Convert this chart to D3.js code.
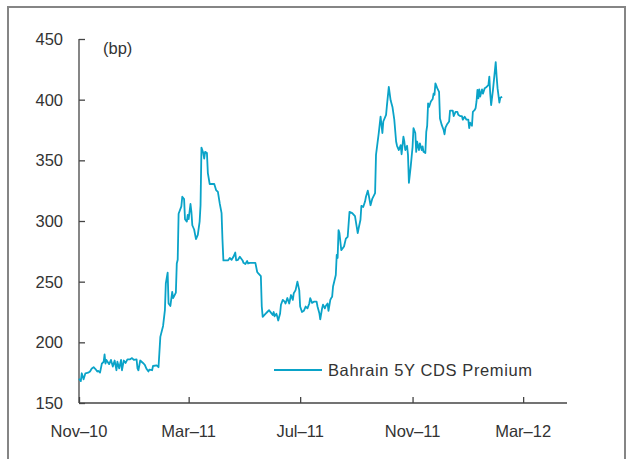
<!DOCTYPE html>
<html>
<head>
<meta charset="utf-8">
<script src="https://cdn.jsdelivr.net/npm/d3@7"></script>
<style>
  body { margin: 0; background: #fff; }
  text { font-family: "Liberation Sans", Arial, sans-serif; fill: #333; }
</style>
</head>
<body>
<svg id="chart" width="627" height="459"></svg>
<script>
// Bahrain 5Y CDS premium, bp
var dates = [
  "2010-11-01","2010-11-03","2010-11-04","2010-11-06","2010-11-08","2010-11-11","2010-11-13","2010-11-15",
  "2010-11-17","2010-11-19","2010-11-21","2010-11-22","2010-11-24","2010-11-26","2010-11-28","2010-11-29",
  "2010-11-30","2010-12-01","2010-12-04","2010-12-06","2010-12-08","2010-12-10","2010-12-12","2010-12-13",
  "2010-12-15","2010-12-17","2010-12-18","2010-12-20","2010-12-22","2010-12-24","2010-12-27","2010-12-29",
  "2010-12-31","2011-01-03","2011-01-04","2011-01-05","2011-01-07","2011-01-10","2011-01-12","2011-01-14",
  "2011-01-16","2011-01-17","2011-01-20","2011-01-21","2011-01-25","2011-01-27","2011-01-29","2011-02-01",
  "2011-02-03","2011-02-04","2011-02-06","2011-02-07","2011-02-09","2011-02-11","2011-02-12","2011-02-15",
  "2011-02-16","2011-02-17","2011-02-18","2011-02-21","2011-02-22","2011-02-24","2011-02-25","2011-02-27",
  "2011-02-28","2011-03-01","2011-03-03","2011-03-04","2011-03-05","2011-03-07","2011-03-09","2011-03-11",
  "2011-03-13","2011-03-14","2011-03-15","2011-03-17","2011-03-18","2011-03-19","2011-03-21","2011-03-22",
  "2011-03-24","2011-03-29","2011-03-31","2011-04-02","2011-04-04","2011-04-06","2011-04-07","2011-04-08",
  "2011-04-13","2011-04-15","2011-04-17","2011-04-19","2011-04-21","2011-04-22","2011-04-24","2011-04-26",
  "2011-04-29","2011-04-30","2011-05-02","2011-05-04","2011-05-05","2011-05-07","2011-05-13","2011-05-15",
  "2011-05-16","2011-05-19","2011-05-20","2011-05-21","2011-05-24","2011-05-26","2011-05-28","2011-05-30",
  "2011-06-01","2011-06-02","2011-06-03","2011-06-05","2011-06-06","2011-06-07","2011-06-09","2011-06-10",
  "2011-06-12","2011-06-14","2011-06-15","2011-06-17","2011-06-19","2011-06-21","2011-06-23","2011-06-24",
  "2011-06-26","2011-06-28","2011-06-30","2011-07-01","2011-07-03","2011-07-05","2011-07-07","2011-07-09",
  "2011-07-11","2011-07-12","2011-07-14","2011-07-16","2011-07-19","2011-07-20","2011-07-22","2011-07-23",
  "2011-07-25","2011-07-26","2011-07-28","2011-07-29","2011-07-31","2011-08-01","2011-08-03","2011-08-04",
  "2011-08-05","2011-08-06","2011-08-09","2011-08-10","2011-08-11","2011-08-12","2011-08-13","2011-08-15",
  "2011-08-18","2011-08-20","2011-08-22","2011-08-24","2011-08-27","2011-08-30","2011-09-02","2011-09-03",
  "2011-09-05","2011-09-06","2011-09-08","2011-09-10","2011-09-11","2011-09-13","2011-09-14","2011-09-16",
  "2011-09-18","2011-09-21","2011-09-22","2011-09-25","2011-09-27","2011-09-29","2011-09-30","2011-10-03",
  "2011-10-04","2011-10-06","2011-10-08","2011-10-10","2011-10-12","2011-10-14","2011-10-15","2011-10-17",
  "2011-10-19","2011-10-20","2011-10-22","2011-10-23","2011-10-24","2011-10-26","2011-10-27","2011-10-28",
  "2011-10-30","2011-10-31","2011-11-01","2011-11-02","2011-11-04","2011-11-05","2011-11-06","2011-11-08",
  "2011-11-09","2011-11-11","2011-11-12","2011-11-13","2011-11-15","2011-11-16","2011-11-17","2011-11-18",
  "2011-11-19","2011-11-21","2011-11-23","2011-11-24","2011-11-25","2011-11-26","2011-11-28","2011-11-30",
  "2011-12-01","2011-12-03","2011-12-05","2011-12-06","2011-12-07","2011-12-09","2011-12-11","2011-12-12",
  "2011-12-15","2011-12-16","2011-12-18","2011-12-20","2011-12-21","2011-12-23","2011-12-25","2011-12-26",
  "2011-12-28","2011-12-30","2012-01-01","2012-01-02","2012-01-03","2012-01-05","2012-01-06","2012-01-08",
  "2012-01-09","2012-01-10","2012-01-11","2012-01-12","2012-01-13","2012-01-14","2012-01-16","2012-01-17",
  "2012-01-19","2012-01-21","2012-01-23","2012-01-24","2012-01-25","2012-01-26","2012-01-28","2012-01-31",
  "2012-02-01","2012-02-02","2012-02-04","2012-02-05","2012-02-07"
];
var cds = [
  170,168,174.5,169.5,174.5,175,176,178.5,
  179.5,178,176,176.5,175,182.5,184,190,
  182.5,185.5,182,185.5,180,185,177,184,
  178.5,185.5,177,185,183,186,186,187,
  185.5,186,178.5,177,185,183,181.5,178,
  176,177.5,177,180.5,181,179.5,204.5,213.5,
  226.5,248.5,257.5,232,230,241.5,236.5,241,
  265,268,306,312,320,318,301.5,299.5,
  305,301.5,314,307.5,296.5,293,285,288.5,
  299.5,313,360.5,356,351.5,357,356,339.5,
  330.5,330.5,325.5,324,314.5,306.5,284.5,267.5,
  267.5,269.5,268,270.5,274,267.5,268,270.5,
  267.5,265.5,264.5,267,265,265.5,265.5,258,
  257,254.5,229.5,221,223.5,225,226.5,224.5,
  222.5,225,221.5,223.5,221,218,223.5,231,
  235,233.5,232,236.5,232,239,235,240.5,
  243,250,243,229.5,225,226,229.5,228,
  232,236.5,232.5,233.5,233.5,229.5,224,219,
  228,231,228,230,232,226,235,236.5,
  237.5,246,255.5,272,269.5,292.5,290,276,
  279,285.5,287,307.5,306.5,304,290,294,
  301,312.5,311.5,316,320,325,321.5,313,
  318.5,323,354.5,372.5,386,372.5,382,387.5,
  395.5,410.5,399.5,394,383.5,365.5,362,358.5,
  362.5,355,369.5,365.5,358.5,362,354.5,331.5,
  345,353,361,376.5,372.5,357,365.5,358.5,
  364,358.5,361.5,357,356,373.5,378.5,397,
  394,398.5,400.5,405,404,413.5,409.5,406.5,
  384.5,379,375,371.5,377,380,382,391,
  391,386.5,390,390,387.5,386.5,386.5,383.5,
  386,383.5,383.5,376.5,381,378.5,390,391.5,
  393,398.5,408,401,408.5,402.5,408.5,405,
  409.5,410.5,412,419,405,395.5,408,431,
  419,409.5,397.5,401.5,402.5
];
var yTicks = [150, 200, 250, 300, 350, 400, 450];
var xTicks = ["2010-11-01", "2011-03-01", "2011-07-01", "2011-11-01", "2012-03-01"];
var seriesName = "Bahrain 5Y CDS Premium";
var unitLabel = "(bp)";

var parse = d3.timeParse("%Y-%m-%d");
var data = dates.map(function(d, i) { return { date: parse(d), value: cds[i] }; });

var svg = d3.select("#chart");

// outer frame
svg.append("rect")
  .attr("x", 8).attr("y", 7)
  .attr("width", 617).attr("height", 470)
  .attr("fill", "none")
  .attr("stroke", "#858585")
  .attr("stroke-width", 2);

var plotLeft = 79, plotRight = 567, plotTop = 39, plotBottom = 403;

var x = d3.scaleTime()
  .domain([parse("2010-11-01"), parse("2012-04-18")])
  .range([plotLeft, plotRight]);

var y = d3.scaleLinear()
  .domain([150, 450])
  .range([plotBottom, plotTop]);

// y axis, ticks pointing inward
var yAxis = svg.append("g")
  .attr("transform", "translate(" + plotLeft + ",0)")
  .call(d3.axisRight(y).tickValues(yTicks).tickSize(6).tickFormat(""));
yAxis.select(".domain").attr("d", "M0," + plotTop + "V" + plotBottom);
yAxis.selectAll("line, path").attr("stroke", "#444").attr("stroke-width", 1.3);

svg.selectAll(".ylab")
  .data(yTicks)
  .enter().append("text")
  .attr("class", "ylab")
  .attr("x", 63)
  .attr("y", function(d) { return y(d); })
  .attr("dy", "0.36em")
  .attr("text-anchor", "end")
  .attr("font-size", "16.5px")
  .text(function(d) { return d; });

// x axis, ticks pointing up
var xAxis = svg.append("g")
  .attr("transform", "translate(0," + plotBottom + ")")
  .call(d3.axisTop(x).tickValues(xTicks.map(parse)).tickSize(6).tickFormat(""));
xAxis.select(".domain").attr("d", "M" + plotLeft + ",0H" + plotRight);
xAxis.selectAll("line, path").attr("stroke", "#444").attr("stroke-width", 1.3);

var fmt = d3.timeFormat("%b");
svg.selectAll(".xlab")
  .data(xTicks)
  .enter().append("text")
  .attr("class", "xlab")
  .attr("x", function(d) { return x(parse(d)); })
  .attr("y", 437)
  .attr("text-anchor", "middle")
  .attr("font-size", "16.5px")
  .text(function(d) { var t = parse(d); return fmt(t) + "\u2013" + d.slice(2, 4); });

// unit label
svg.append("text")
  .attr("x", 103).attr("y", 54)
  .attr("font-size", "16.5px")
  .text(unitLabel);

// series line
var line = d3.line()
  .x(function(d) { return x(d.date); })
  .y(function(d) { return y(d.value); });

svg.append("path")
  .datum(data)
  .attr("d", line)
  .attr("fill", "none")
  .attr("stroke", "#0aa3c8")
  .attr("stroke-width", 1.8)
  .attr("stroke-linejoin", "round");

// legend
svg.append("line")
  .attr("x1", 274).attr("x2", 322)
  .attr("y1", 370).attr("y2", 370)
  .attr("stroke", "#0aa3c8")
  .attr("stroke-width", 1.8);
svg.append("text")
  .attr("x", 328).attr("y", 370)
  .attr("dy", "0.36em")
  .attr("font-size", "16.5px")
  .attr("letter-spacing", "0.6px")
  .text(seriesName);
</script>
</body>
</html>
